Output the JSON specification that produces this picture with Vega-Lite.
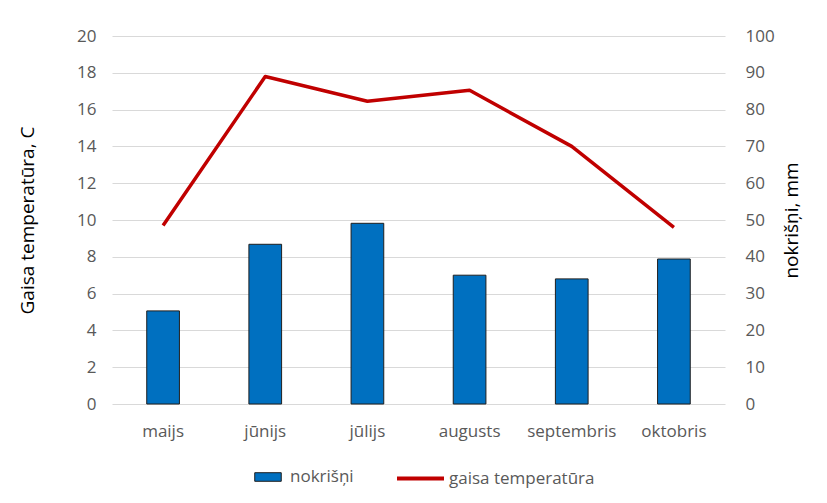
{
  "$schema": "https://vega.github.io/schema/vega-lite/v6.json",
  "width": 613,
  "height": 368,
  "autosize": {"type": "none"},
  "padding": {"left": 112, "top": 36, "right": 102, "bottom": 99},
  "background": "white",
  "config": {
    "view": {"stroke": null},
    "font": "Open Sans",
    "axis": {"labelFont": "Open Sans", "titleFont": "Open Sans", "titleFontWeight": "normal"},
    "legend": {"labelFont": "Open Sans"}
  },
  "data": {
    "values": [
      {"month": "maijs", "temp": 9.7, "precip": 25.3},
      {"month": "jūnijs", "temp": 17.8, "precip": 43.4},
      {"month": "jūlijs", "temp": 16.45, "precip": 49.1},
      {"month": "augusts", "temp": 17.05, "precip": 35.0},
      {"month": "septembris", "temp": 14.0, "precip": 34.0},
      {"month": "oktobris", "temp": 9.6, "precip": 39.4}
    ]
  },
  "encoding": {
    "x": {
      "field": "month",
      "type": "nominal",
      "sort": null,
      "scale": {"paddingInner": 0, "paddingOuter": 0},
      "axis": {
        "title": null,
        "labelAngle": 0,
        "ticks": false,
        "domain": false,
        "grid": false,
        "labelPadding": 19,
        "labelFontSize": 17,
        "labelColor": "#595959"
      }
    }
  },
  "layer": [
    {
      "mark": {"type": "bar", "width": {"band": 0.32}, "stroke": "#1f1f1f", "strokeWidth": 1},
      "encoding": {
        "y": {
          "field": "precip",
          "type": "quantitative",
          "scale": {"domain": [0, 100], "nice": false},
          "axis": {
            "orient": "right",
            "title": "nokrišņi, mm",
            "values": [0, 10, 20, 30, 40, 50, 60, 70, 80, 90, 100],
            "grid": false,
            "ticks": false,
            "domain": false,
            "labelPadding": 20,
            "labelFontSize": 17,
            "labelColor": "#595959",
            "titleFontSize": 19,
            "titleColor": "#000000",
            "titleAngle": -90,
            "titleBaseline": "top",
            "titlePadding": 8
          }
        },
        "fill": {
          "datum": "nokrišņi",
          "scale": {"range": ["#0070C0"]},
          "legend": {
            "orient": "none",
            "legendX": 136,
            "legendY": 421,
            "title": null,
            "symbolType": "M-0.68,-0.22H0.68V0.22H-0.68Z",
            "symbolSize": 1521,
            "symbolStrokeColor": "#1f1f1f",
            "symbolStrokeWidth": 1,
            "labelFontSize": 17,
            "labelColor": "#595959",
            "labelOffset": 2
          }
        }
      }
    },
    {
      "mark": {"type": "line", "strokeWidth": 3.5, "strokeJoin": "round"},
      "encoding": {
        "y": {
          "field": "temp",
          "type": "quantitative",
          "scale": {"domain": [0, 20], "nice": false},
          "axis": {
            "orient": "left",
            "title": "Gaisa temperatūra, C",
            "values": [0, 2, 4, 6, 8, 10, 12, 14, 16, 18, 20],
            "grid": true,
            "gridColor": "#D9D9D9",
            "gridWidth": 1,
            "ticks": false,
            "domain": false,
            "labelPadding": 16,
            "labelFontSize": 17,
            "labelColor": "#595959",
            "titleFontSize": 19,
            "titleColor": "#000000",
            "titlePadding": 39
          }
        },
        "stroke": {
          "datum": "gaisa temperatūra",
          "scale": {"range": ["#C00000"]},
          "legend": {
            "orient": "none",
            "legendX": 283,
            "legendY": 417,
            "title": null,
            "symbolType": "stroke",
            "symbolSize": 2209,
            "symbolStrokeWidth": 4,
            "labelFontSize": 17,
            "labelColor": "#595959",
            "labelOffset": 3
          }
        }
      }
    }
  ],
  "resolve": {"scale": {"y": "independent", "fill": "independent", "stroke": "independent"}}
}
